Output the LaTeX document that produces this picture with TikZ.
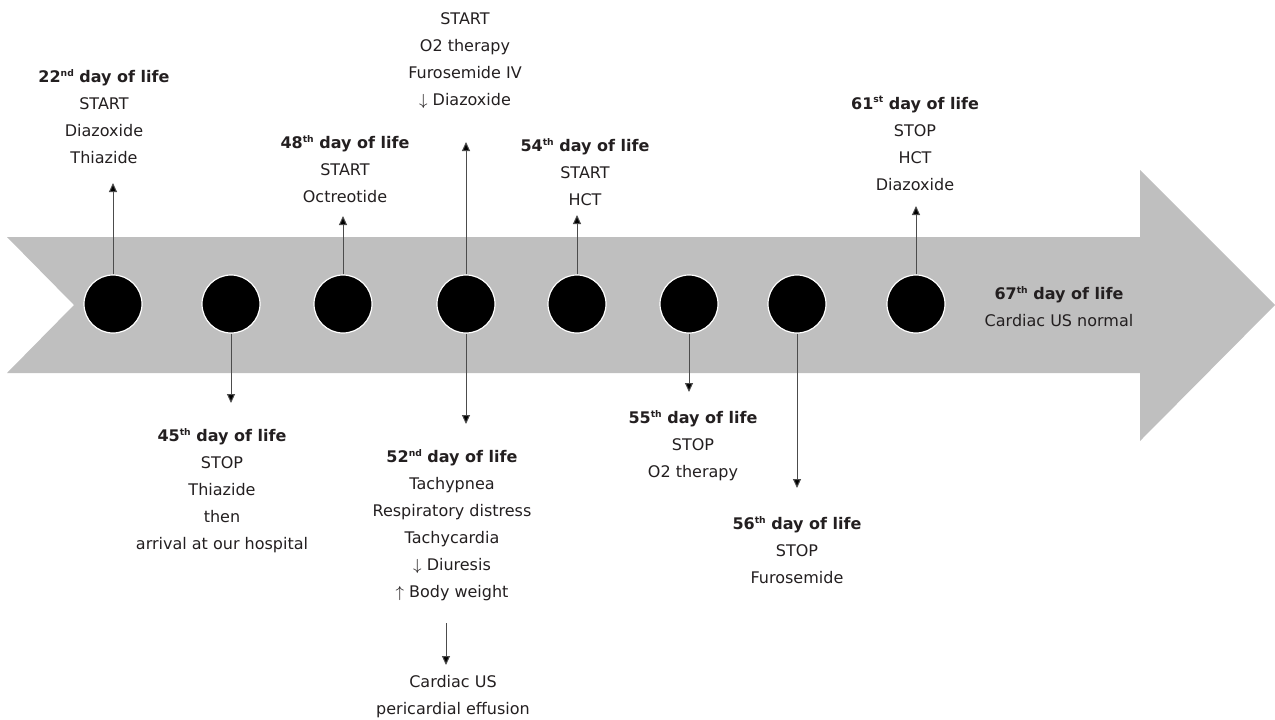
\documentclass[tikz,border=0pt]{standalone}
\usepackage{fontspec}
\setmainfont{DejaVu Sans}
\usepackage{tikz}
\usetikzlibrary{arrows.meta,positioning}
\definecolor{band}{RGB}{191,191,191}
\definecolor{ink}{RGB}{35,31,32}
\tikzset{font=\fontsize{8}{13.5}\selectfont}
\tikzstyle{dot}=[circle,fill=black,draw=white,line width=0.6pt,minimum size=29pt,inner sep=0pt]
\tikzstyle{evt}=[align=center,anchor=north,inner sep=0pt,text=ink]
\tikzstyle{pin}=[draw=black!70,line width=0.5pt,-{Triangle[length=4.5pt,width=4pt,fill=black]}]
\newcommand{\dol}[2]{\textbf{#1\raisebox{0.75ex}{\fontsize{4.6}{5}\selectfont #2} day of life}}

\begin{document}
\begin{tikzpicture}[x=0.5pt,y=-0.5pt]
\useasboundingbox (0,0) rectangle (1275,719);
% the big arrow
\fill[band] (7,237) -- (1140,237) -- (1140,170) -- (1275,305) -- (1140,441)
  -- (1140,373) -- (7,373) -- (74,305) -- cycle;
% dots
\node[dot] (c1) at (113,304) {};
\node[dot] (c2) at (231,304) {};
\node[dot] (c3) at (343,304) {};
\node[dot] (c4) at (466,304) {};
\node[dot] (c5) at (577,304) {};
\node[dot] (c6) at (689,304) {};
\node[dot] (c7) at (797,304) {};
\node[dot] (c8) at (916,304) {};
% texts
\node[evt] (t22) at (104,69) {\dol{22}{nd}\\START\\Diazoxide\\Thiazide};
\node[evt] (t45) at (222,428) {\dol{45}{th}\\STOP\\Thiazide\\then\\arrival at our hospital};
\node[evt] (t48) at (345,135) {\dol{48}{th}\\START\\Octreotide};
\node[evt] (t52a) at (465,12) {START\\O2 therapy\\Furosemide IV\\$\downarrow$ Diazoxide};
\node[evt] (t54) at (585,138) {\dol{54}{th}\\START\\HCT};
\node[evt] (t52) at (452,449) {\dol{52}{nd}\\Tachypnea\\Respiratory distress\\Tachycardia\\$\downarrow$ Diuresis\\$\uparrow$ Body weight};
\node[evt] (tus) at (453,675) {Cardiac US\\pericardial effusion};
\node[evt] (t55) at (693,410) {\dol{55}{th}\\STOP\\O2 therapy};
\node[evt] (t56) at (797,516) {\dol{56}{th}\\STOP\\Furosemide};
\node[evt] (t61) at (915,96) {\dol{61}{st}\\STOP\\HCT\\Diazoxide};
\node[evt] (t67) at (1059,286) {\dol{67}{th}\\Cardiac US normal};
% arrow ends
\coordinate (e1) at (113,183);
\coordinate (e2) at (231,403);
\coordinate (e3) at (343,216);
\coordinate (e4) at (466,142);
\coordinate (e5) at (466,424);
\coordinate (e6) at (577,215);
\coordinate (e7) at (689,392);
\coordinate (e8) at (797,488);
\coordinate (e9) at (916,206);
\coordinate (u1) at (446,623);
\coordinate (u2) at (446,665);
\draw[pin] (c1) -- (e1);
\draw[pin] (c2) -- (e2);
\draw[pin] (c3) -- (e3);
\draw[pin] (c4) -- (e4);
\draw[pin] (c4) -- (e5);
\draw[pin] (c5) -- (e6);
\draw[pin] (c6) -- (e7);
\draw[pin] (c7) -- (e8);
\draw[pin] (c8) -- (e9);
\draw[pin] (u1) -- (u2);
\end{tikzpicture}
\end{document}
